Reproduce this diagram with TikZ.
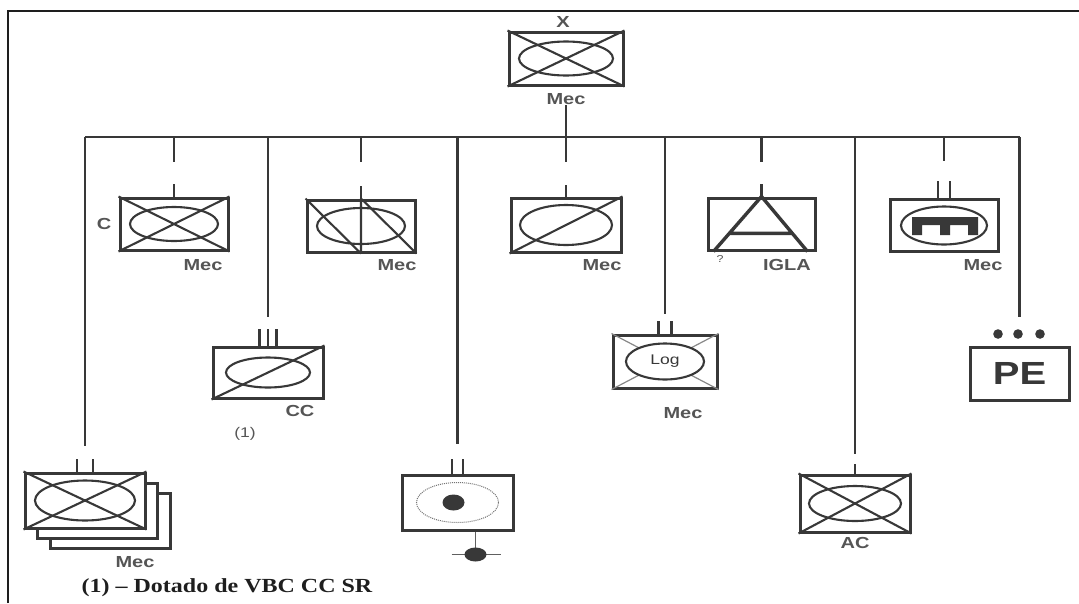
\documentclass[tikz,border=0pt]{standalone}
\usepackage{fontspec}
\setmainfont{Liberation Serif}
\newfontfamily\tagfont[FakeStretch=1.25]{Liberation Sans}
\newfontfamily\notefont[FakeStretch=1.2]{Liberation Serif}
\usetikzlibrary{positioning,calc}
\definecolor{Ink}{HTML}{383838}
\definecolor{Frame}{HTML}{1E1E1E}
\definecolor{Tag}{HTML}{555555}
\tikzset{
  unit/.style={draw=Ink, fill=white, line width=3pt, minimum width=108pt, minimum height=52pt, inner sep=0pt},
  sym/.style={draw=Ink, line width=2.1pt},
  wire/.style={draw=Ink, line width=2.6pt},
  ech/.style={draw=Ink, line width=2.6pt},
  tag/.style={font=\tagfont\bfseries\fontsize{16}{18}\selectfont, text=Tag, inner sep=0pt}
}
% unit symbol parts
\newcommand{\mecX}[1]{\draw[sym] (#1.north west) -- (#1.south east) (#1.north east) -- (#1.south west);}
\newcommand{\mecOval}[3]{\draw[sym] (#1.center) ellipse (#2pt and #3pt);}
\newcommand{\mecSlash}[1]{\draw[sym] (#1.south west) -- (#1.north east);}
% echelon bars above a box
\newcommand{\echI}[2]{\draw[ech] (#1.north) -- ++(0,-#2);}
\newcommand{\echII}[3]{\draw[ech] ([xshift=-#2pt]#1.north) -- ++(0,-#3) ([xshift=#2pt]#1.north) -- ++(0,-#3);}
\newcommand{\echIII}[3]{\draw[ech] ([xshift=-#2pt]#1.north) -- ++(0,-#3) (#1.north) -- ++(0,-#3) ([xshift=#2pt]#1.north) -- ++(0,-#3);}
% branch from the bus down to a box
\newcommand{\drop}[2]{\draw[wire] (#1.north |- bus) -- ([yshift=#2pt]#1.north);}

\begin{document}
\begin{tikzpicture}[x=1pt, y=-1pt]
  \useasboundingbox (0,0) rectangle (1079,603);
  \draw[Frame, line width=2pt] (8,603) -- (8,11) -- (1079,11);

  % brigade
  \node[unit, minimum width=114pt, minimum height=53pt] (bde) at (566,58.5) {};
  \mecX{bde} \mecOval{bde}{47}{17}
  \node[tag] (bdeX) at (563,22) {X};
  \node[tag, below=7pt of bde] (bdeMec) {Mec};

  % first row
  \node[unit] (coC) at (174,224) {};
  \node[unit] (bdiv) at (361,226) {};
  \node[unit, minimum width=110pt, minimum height=54pt] (mecA) at (566,225) {};
  \node[unit, minimum width=107pt] (igla) at (761.5,224) {};
  \node[unit] (mecM) at (944,225.5) {};

  % second row
  \node[unit, minimum width=110pt, minimum height=51pt] (cc) at (268,372.5) {};
  \node[unit, minimum width=104pt, minimum height=53pt] (log) at (665,361.5) {};
  \node[unit, minimum width=99pt, minimum height=53pt, font=\tagfont\bfseries\fontsize{32}{34}\selectfont, text=Ink] (pe) at (1019.5,373.5) {PE};

  % third row
  \node[unit, minimum width=120pt, minimum height=55pt] (stack3) at (110,520.5) {};
  \node[unit, minimum width=120pt, minimum height=55pt] (stack2) at (97,510.5) {};
  \node[unit, minimum width=120pt, minimum height=55pt] (stack) at (85,500.5) {};
  \node[unit, minimum width=111pt, minimum height=55pt] (mp) at (457.5,502.5) {};
  \node[unit, minimum width=110pt, minimum height=57pt] (ac) at (855,503.5) {};

  % bus and branches
  \coordinate (bus) at (566,137);
  \draw[wire] (stack.north |- bus) -- (pe.north |- bus);
  \draw[wire] (bdeMec.south) -- ([yshift=35pt]mecA.north);
  \drop{stack}{26} \drop{coC}{35} \drop{bdiv}{37} \drop{igla}{35} \drop{mecM}{37}
  \drop{cc}{29} \drop{log}{20} \drop{pe}{29} \drop{mp}{30} \drop{ac}{20}

  % symbols
  \mecX{coC} \mecOval{coC}{44}{17}
  \mecOval{bdiv}{44}{18}
  \draw[sym] (bdiv.north west) -- (bdiv.south) (bdiv.north) -- (bdiv.south) (bdiv.north) -- (bdiv.south east);
  \mecOval{mecA}{46}{20} \mecSlash{mecA}
  \draw[Ink, line width=3.4pt] (igla.north) -- ([xshift=-48pt]igla.south) (igla.north) -- ([xshift=46pt]igla.south)
    ($(igla.north)!0.67!([xshift=-48pt]igla.south)$) -- ($(igla.north)!0.67!([xshift=46pt]igla.south)$);
  \mecOval{mecM}{43}{19}
  \begin{scope}[shift={(mecM.center)}]
    \fill[Ink] (-32,-8.5) -- (34,-8.5) -- (34,9.5) -- (24,9.5) -- (24,-0.5) -- (6,-0.5) -- (6,9.5)
      -- (-4,9.5) -- (-4,-0.5) -- (-22,-0.5) -- (-22,9.5) -- (-32,9.5) -- cycle;
  \end{scope}
  \mecOval{cc}{42}{15} \mecSlash{cc}
  \draw[Ink!60, line width=1.2pt] (log.north west) -- (log.south east) (log.north east) -- (log.south west);
  \draw[sym, fill=white] (log.center) ellipse (39pt and 18pt);
  \node[font=\tagfont\fontsize{14}{14}\selectfont, text=Ink] (logTxt) at (log.center) {Log};
  \mecX{stack} \mecOval{stack}{50}{20}
  \draw[Ink!70, line width=1pt, densely dotted] (mp.center) ellipse (41pt and 20pt);
  \fill[Ink] ([xshift=-4pt]mp.center) ellipse (11pt and 8pt);
  \coordinate (mpFoot) at ([xshift=18pt,yshift=-23pt]mp.south);
  \draw[Ink!80, line width=1.2pt] ([xshift=18pt]mp.south) -- (mpFoot)
    ([xshift=-24pt]mpFoot) -- ([xshift=25pt]mpFoot);
  \fill[Ink] (mpFoot) ellipse (11pt and 7pt);
  \mecX{ac} \mecOval{ac}{46}{17.5}

  % echelons
  \echI{coC}{13} \echI{bdiv}{13} \echI{mecA}{12} \echI{igla}{13} \echI{ac}{10}
  \echII{mecM}{6}{17} \echII{log}{6.5}{13} \echII{stack}{8}{13} \echII{mp}{5.5}{15}
  \echIII{cc}{8.5}{17}
  \fill[Ink] (998,334) circle (4.8pt) (1018,334) circle (4.8pt) (1040,334) circle (4.8pt);

  % labels
  \node[tag, left=7pt of coC] (coCLetter) {C};
  \node[tag] (coCMec) at (203,265) {Mec};
  \node[tag] (bdivMec) at (397,265) {Mec};
  \node[tag] (mecAMec) at (602,265) {Mec};
  \node[font=\tagfont\fontsize{10}{10}\selectfont, text=Tag] (iglaMark) at (720,259) {?};
  \node[tag] (iglaTag) at (787,265) {IGLA};
  \node[tag] (mecMMec) at (983,265) {Mec};
  \node[tag] (ccTag) at (300,411) {CC};
  \node[tag, font=\tagfont\fontsize{14}{16}\selectfont] (ccNote) at (245,434) {(1)};
  \node[tag] (logMec) at (683,413) {Mec};
  \node[tag] (stackMec) at (135,562) {Mec};
  \node[tag] (acTag) at (855,543) {AC};
  \node[font=\notefont\bfseries\fontsize{20}{22}\selectfont, text=Frame] (note) at (227,588) {(1) – Dotado de VBC CC SR};
\end{tikzpicture}
\end{document}
